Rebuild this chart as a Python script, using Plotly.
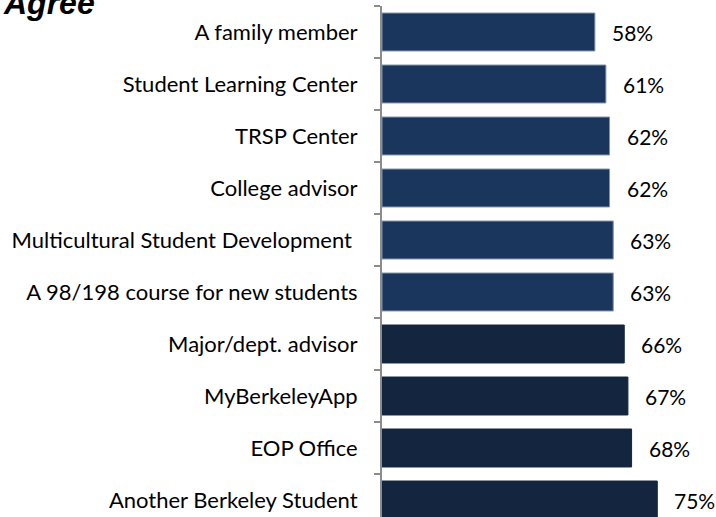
import plotly.graph_objects as go

categories = [
    "Another Berkeley Student",
    "EOP Office",
    "MyBerkeleyApp",
    "Major/dept. advisor",
    "A 98/198 course for new students",
    "Multicultural Student Development\u00a0",
    "College advisor",
    "TRSP Center",
    "Student Learning Center",
    "A family member",
]
values = [75, 68, 67, 66, 63, 63, 62, 62, 61, 58]
labels = [f"{v}%" for v in values]
colors = ["#13253f"] * 4 + ["#1b365d"] * 6
edge_colors = ["#13253f"] * 4 + ["#8093ab"] * 6

FONT = "Lato"

fig = go.Figure()
fig.add_trace(go.Bar(
    y=categories, x=values, orientation="h",
    marker=dict(color=colors, line=dict(color=edge_colors, width=1)),
    width=0.73, hoverinfo="skip",
))

for c, v, t in zip(categories, values, labels):
    fig.add_annotation(x=v, y=c, text=t, showarrow=False, xanchor="left",
                       xshift=15, font=dict(family=FONT, size=21, color="#000"))

fig.add_annotation(xref="paper", yref="paper", x=-1.141, y=0.967, xanchor="left",
                   yanchor="bottom", text="<b><i>Agree</i></b>", showarrow=False,
                   font=dict(family="Liberation Sans, Arial", size=32, color="#000"))

fig.update_layout(
    width=716, height=517,
    margin=dict(l=382, r=0, t=6, b=0),
    plot_bgcolor="white", paper_bgcolor="white",
    showlegend=False,
    xaxis=dict(range=[0, 91], visible=False, fixedrange=True),
    yaxis=dict(
        categoryorder="array", categoryarray=categories,
        range=[-0.327, 9.5], fixedrange=True,
        showline=True, linecolor="#8c8c8c", linewidth=2,
        ticks="outside", ticklen=6, tickcolor="#8c8c8c", tickwidth=1.5,
        tickson="boundaries", ticklabelstandoff=18,
        tickfont=dict(family=FONT, size=22, color="#000"),
        showgrid=False, zeroline=False,
    ),
)

fig.write_html("out.html", config={"displayModeBar": False},
               post_script="document.body.style.margin='0';")
